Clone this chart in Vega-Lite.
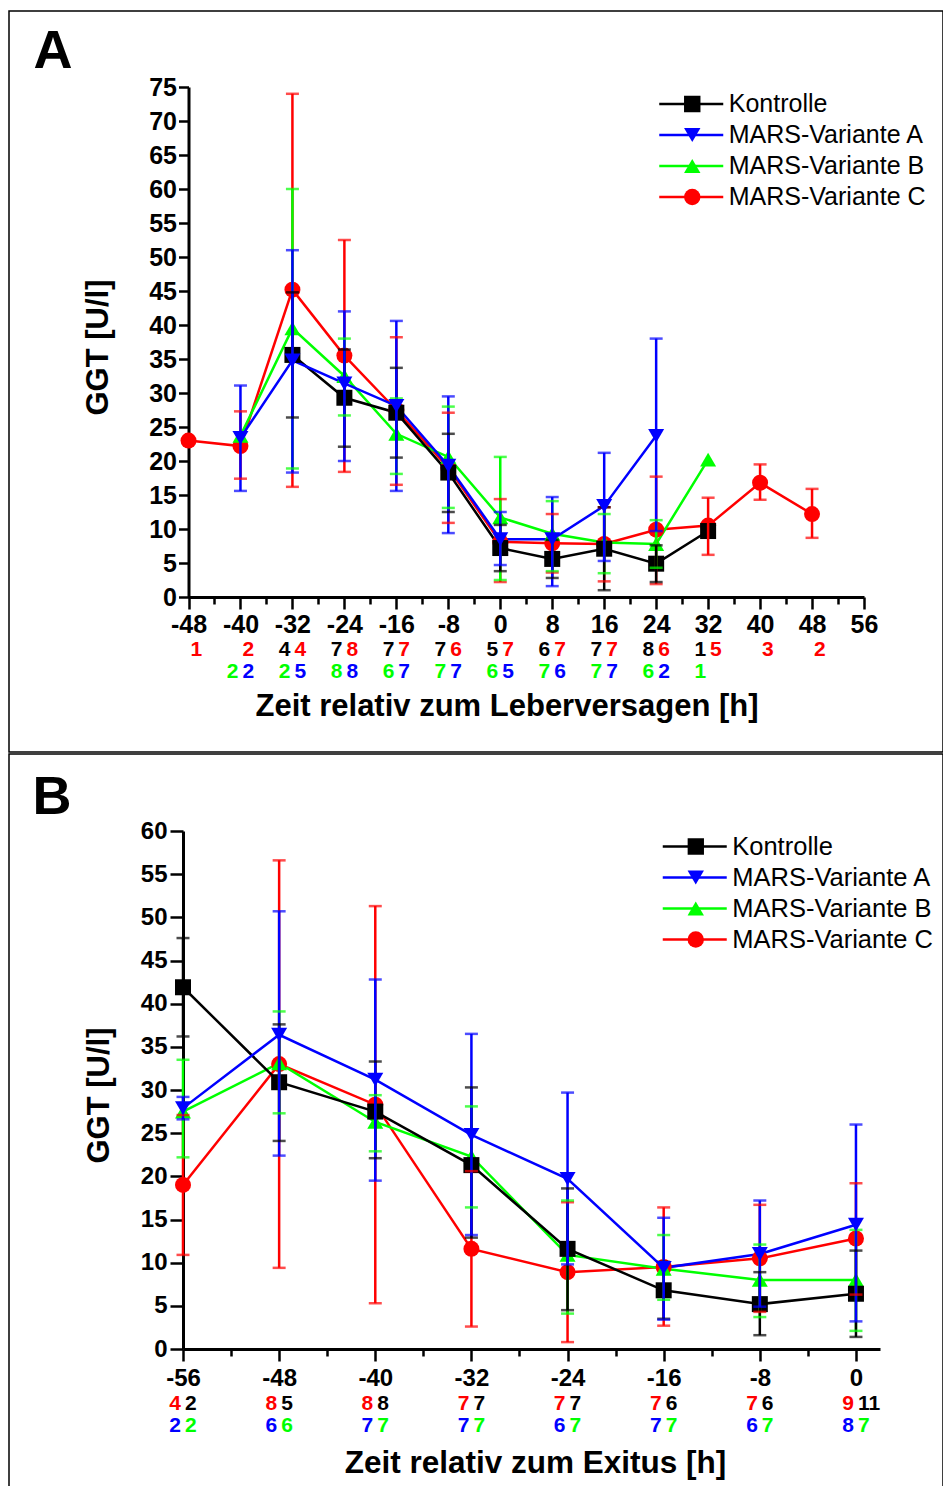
{
  "$schema": "https://vega.github.io/schema/vega-lite/v6.json",
  "padding": {"left": 8, "top": 10, "right": 0, "bottom": 0},
  "spacing": 0,
  "background": "#ffffff",
  "config": {
    "font": "Liberation Sans",
    "view": {"stroke": "#000000", "strokeWidth": 1.5},
    "axis": {"domainColor": "#000000", "domainWidth": 3, "tickColor": "#000000", "tickWidth": 2.5, "labelColor": "#000000", "labelFontSize": 25, "labelFontWeight": "bold", "titleColor": "#000000", "titleFontSize": 31, "titleFontWeight": "bold", "grid": false, "labelOverlap": false, "labelFlush": false, "labelBound": false}
  },
  "resolve": {"scale": {"color": "independent", "fill": "independent", "shape": "independent", "stroke": "independent"}},
  "datasets": {
    "ptsA": [
      {"t": -48, "series": "MARS-Variante C", "code": "C", "v": 23.0},
      {"t": -40, "series": "MARS-Variante C", "code": "C", "v": 22.2, "lo": 17.4, "hi": 27.3},
      {"t": -32, "series": "MARS-Variante C", "code": "C", "v": 45.2, "lo": 16.2, "hi": 74.0},
      {"t": -24, "series": "MARS-Variante C", "code": "C", "v": 35.5, "lo": 18.4, "hi": 52.5},
      {"t": -16, "series": "MARS-Variante C", "code": "C", "v": 27.5, "lo": 16.5, "hi": 38.2},
      {"t": -8, "series": "MARS-Variante C", "code": "C", "v": 19.0, "lo": 10.9, "hi": 27.1},
      {"t": 0, "series": "MARS-Variante C", "code": "C", "v": 8.1, "lo": 2.2, "hi": 14.4},
      {"t": 8, "series": "MARS-Variante C", "code": "C", "v": 7.9, "lo": 3.6, "hi": 12.2},
      {"t": 16, "series": "MARS-Variante C", "code": "C", "v": 7.8, "lo": 2.3, "hi": 13.2},
      {"t": 24, "series": "MARS-Variante C", "code": "C", "v": 9.9, "lo": 1.9, "hi": 17.7},
      {"t": 32, "series": "MARS-Variante C", "code": "C", "v": 10.5, "lo": 6.2, "hi": 14.6},
      {"t": 40, "series": "MARS-Variante C", "code": "C", "v": 16.8, "lo": 14.3, "hi": 19.5},
      {"t": 48, "series": "MARS-Variante C", "code": "C", "v": 12.2, "lo": 8.7, "hi": 15.9},
      {"t": -40, "series": "MARS-Variante B", "code": "B", "v": 23.7},
      {"t": -32, "series": "MARS-Variante B", "code": "B", "v": 39.5, "lo": 18.9, "hi": 60.0},
      {"t": -24, "series": "MARS-Variante B", "code": "B", "v": 32.5, "lo": 26.7, "hi": 38.0},
      {"t": -16, "series": "MARS-Variante B", "code": "B", "v": 24.0, "lo": 18.1, "hi": 29.2},
      {"t": -8, "series": "MARS-Variante B", "code": "B", "v": 20.6, "lo": 13.1, "hi": 28.0},
      {"t": 0, "series": "MARS-Variante B", "code": "B", "v": 11.7, "lo": 2.5, "hi": 20.6},
      {"t": 8, "series": "MARS-Variante B", "code": "B", "v": 9.3, "lo": 3.8, "hi": 14.1},
      {"t": 16, "series": "MARS-Variante B", "code": "B", "v": 8.0, "lo": 3.5, "hi": 12.2},
      {"t": 24, "series": "MARS-Variante B", "code": "B", "v": 7.8, "lo": 4.3, "hi": 11.3},
      {"t": 32, "series": "MARS-Variante B", "code": "B", "v": 20.2},
      {"t": -32, "series": "Kontrolle", "code": "K", "v": 35.6, "lo": 26.4, "hi": 44.8},
      {"t": -24, "series": "Kontrolle", "code": "K", "v": 29.3, "lo": 22.1, "hi": 36.4},
      {"t": -16, "series": "Kontrolle", "code": "K", "v": 27.1, "lo": 20.5, "hi": 33.7},
      {"t": -8, "series": "Kontrolle", "code": "K", "v": 18.3, "lo": 12.5, "hi": 24.0},
      {"t": 0, "series": "Kontrolle", "code": "K", "v": 7.2, "lo": 3.8, "hi": 10.6},
      {"t": 8, "series": "Kontrolle", "code": "K", "v": 5.6, "lo": 2.8, "hi": 8.4},
      {"t": 16, "series": "Kontrolle", "code": "K", "v": 7.1, "lo": 1.0, "hi": 13.2},
      {"t": 24, "series": "Kontrolle", "code": "K", "v": 4.9, "lo": 2.2, "hi": 7.6},
      {"t": 32, "series": "Kontrolle", "code": "K", "v": 9.7},
      {"t": -40, "series": "MARS-Variante A", "code": "A", "v": 23.4, "lo": 15.6, "hi": 31.1},
      {"t": -32, "series": "MARS-Variante A", "code": "A", "v": 34.8, "lo": 18.3, "hi": 51.0},
      {"t": -24, "series": "MARS-Variante A", "code": "A", "v": 31.4, "lo": 20.0, "hi": 42.0},
      {"t": -16, "series": "MARS-Variante A", "code": "A", "v": 28.1, "lo": 15.6, "hi": 40.6},
      {"t": -8, "series": "MARS-Variante A", "code": "A", "v": 19.3, "lo": 9.4, "hi": 29.5},
      {"t": 0, "series": "MARS-Variante A", "code": "A", "v": 8.5, "lo": 4.7, "hi": 12.5},
      {"t": 8, "series": "MARS-Variante A", "code": "A", "v": 8.5, "lo": 1.6, "hi": 14.7},
      {"t": 16, "series": "MARS-Variante A", "code": "A", "v": 13.4, "lo": 5.3, "hi": 21.2},
      {"t": 24, "series": "MARS-Variante A", "code": "A", "v": 23.7, "lo": 9.7, "hi": 38.0}
    ],
    "cntA": [
      {"t": -48, "row": 1, "pos": "R", "code": "C", "n": 1},
      {"t": -40, "row": 1, "pos": "R", "code": "C", "n": 2},
      {"t": -40, "row": 2, "pos": "L", "code": "B", "n": 2},
      {"t": -40, "row": 2, "pos": "R", "code": "A", "n": 2},
      {"t": -32, "row": 1, "pos": "L", "code": "K", "n": 4},
      {"t": -32, "row": 1, "pos": "R", "code": "C", "n": 4},
      {"t": -32, "row": 2, "pos": "L", "code": "B", "n": 2},
      {"t": -32, "row": 2, "pos": "R", "code": "A", "n": 5},
      {"t": -24, "row": 1, "pos": "L", "code": "K", "n": 7},
      {"t": -24, "row": 1, "pos": "R", "code": "C", "n": 8},
      {"t": -24, "row": 2, "pos": "L", "code": "B", "n": 8},
      {"t": -24, "row": 2, "pos": "R", "code": "A", "n": 8},
      {"t": -16, "row": 1, "pos": "L", "code": "K", "n": 7},
      {"t": -16, "row": 1, "pos": "R", "code": "C", "n": 7},
      {"t": -16, "row": 2, "pos": "L", "code": "B", "n": 6},
      {"t": -16, "row": 2, "pos": "R", "code": "A", "n": 7},
      {"t": -8, "row": 1, "pos": "L", "code": "K", "n": 7},
      {"t": -8, "row": 1, "pos": "R", "code": "C", "n": 6},
      {"t": -8, "row": 2, "pos": "L", "code": "B", "n": 7},
      {"t": -8, "row": 2, "pos": "R", "code": "A", "n": 7},
      {"t": 0, "row": 1, "pos": "L", "code": "K", "n": 5},
      {"t": 0, "row": 1, "pos": "R", "code": "C", "n": 7},
      {"t": 0, "row": 2, "pos": "L", "code": "B", "n": 6},
      {"t": 0, "row": 2, "pos": "R", "code": "A", "n": 5},
      {"t": 8, "row": 1, "pos": "L", "code": "K", "n": 6},
      {"t": 8, "row": 1, "pos": "R", "code": "C", "n": 7},
      {"t": 8, "row": 2, "pos": "L", "code": "B", "n": 7},
      {"t": 8, "row": 2, "pos": "R", "code": "A", "n": 6},
      {"t": 16, "row": 1, "pos": "L", "code": "K", "n": 7},
      {"t": 16, "row": 1, "pos": "R", "code": "C", "n": 7},
      {"t": 16, "row": 2, "pos": "L", "code": "B", "n": 7},
      {"t": 16, "row": 2, "pos": "R", "code": "A", "n": 7},
      {"t": 24, "row": 1, "pos": "L", "code": "K", "n": 8},
      {"t": 24, "row": 1, "pos": "R", "code": "C", "n": 6},
      {"t": 24, "row": 2, "pos": "L", "code": "B", "n": 6},
      {"t": 24, "row": 2, "pos": "R", "code": "A", "n": 2},
      {"t": 32, "row": 1, "pos": "L", "code": "K", "n": 1},
      {"t": 32, "row": 1, "pos": "R", "code": "C", "n": 5},
      {"t": 32, "row": 2, "pos": "L", "code": "B", "n": 1},
      {"t": 40, "row": 1, "pos": "R", "code": "C", "n": 3},
      {"t": 48, "row": 1, "pos": "R", "code": "C", "n": 2}
    ],
    "ptsB": [
      {"t": -56, "series": "MARS-Variante C", "code": "C", "v": 19.0, "lo": 10.9, "hi": 27.1},
      {"t": -48, "series": "MARS-Variante C", "code": "C", "v": 33.0, "lo": 9.4, "hi": 56.6},
      {"t": -40, "series": "MARS-Variante C", "code": "C", "v": 28.3, "lo": 5.3, "hi": 51.3},
      {"t": -32, "series": "MARS-Variante C", "code": "C", "v": 11.6, "lo": 2.6, "hi": 20.6},
      {"t": -24, "series": "MARS-Variante C", "code": "C", "v": 8.9, "lo": 0.8, "hi": 17.0},
      {"t": -16, "series": "MARS-Variante C", "code": "C", "v": 9.5, "lo": 2.7, "hi": 16.4},
      {"t": -8, "series": "MARS-Variante C", "code": "C", "v": 10.5, "lo": 4.3, "hi": 16.7},
      {"t": 0, "series": "MARS-Variante C", "code": "C", "v": 12.8, "lo": 6.3, "hi": 19.2},
      {"t": -56, "series": "MARS-Variante B", "code": "B", "v": 27.5, "lo": 22.2, "hi": 33.5},
      {"t": -48, "series": "MARS-Variante B", "code": "B", "v": 33.1, "lo": 27.3, "hi": 39.1},
      {"t": -40, "series": "MARS-Variante B", "code": "B", "v": 26.3, "lo": 22.9, "hi": 29.4},
      {"t": -32, "series": "MARS-Variante B", "code": "B", "v": 22.3, "lo": 16.4, "hi": 28.1},
      {"t": -24, "series": "MARS-Variante B", "code": "B", "v": 10.9, "lo": 4.1, "hi": 17.2},
      {"t": -16, "series": "MARS-Variante B", "code": "B", "v": 9.3, "lo": 5.7, "hi": 13.2},
      {"t": -8, "series": "MARS-Variante B", "code": "B", "v": 8.0, "lo": 3.7, "hi": 12.1},
      {"t": 0, "series": "MARS-Variante B", "code": "B", "v": 8.0, "lo": 2.1, "hi": 13.8},
      {"t": -56, "series": "Kontrolle", "code": "K", "v": 41.9, "lo": 36.2, "hi": 47.6},
      {"t": -48, "series": "Kontrolle", "code": "K", "v": 30.9, "lo": 24.1, "hi": 37.6},
      {"t": -40, "series": "Kontrolle", "code": "K", "v": 27.5, "lo": 22.1, "hi": 33.3},
      {"t": -32, "series": "Kontrolle", "code": "K", "v": 21.3, "lo": 12.9, "hi": 30.3},
      {"t": -24, "series": "Kontrolle", "code": "K", "v": 11.6, "lo": 4.5, "hi": 18.6},
      {"t": -16, "series": "Kontrolle", "code": "K", "v": 6.8, "lo": 3.5, "hi": 10.1},
      {"t": -8, "series": "Kontrolle", "code": "K", "v": 5.2, "lo": 1.6, "hi": 8.9},
      {"t": 0, "series": "Kontrolle", "code": "K", "v": 6.4, "lo": 1.4, "hi": 11.4},
      {"t": -56, "series": "MARS-Variante A", "code": "A", "v": 27.9, "lo": 26.6, "hi": 29.2},
      {"t": -48, "series": "MARS-Variante A", "code": "A", "v": 36.4, "lo": 22.4, "hi": 50.7},
      {"t": -40, "series": "MARS-Variante A", "code": "A", "v": 31.2, "lo": 19.5, "hi": 42.8},
      {"t": -32, "series": "MARS-Variante A", "code": "A", "v": 24.8, "lo": 13.2, "hi": 36.5},
      {"t": -24, "series": "MARS-Variante A", "code": "A", "v": 19.7, "lo": 9.8, "hi": 29.7},
      {"t": -16, "series": "MARS-Variante A", "code": "A", "v": 9.4, "lo": 3.4, "hi": 15.2},
      {"t": -8, "series": "MARS-Variante A", "code": "A", "v": 11.0, "lo": 4.9, "hi": 17.2},
      {"t": 0, "series": "MARS-Variante A", "code": "A", "v": 14.4, "lo": 3.2, "hi": 26.0}
    ],
    "cntB": [
      {"t": -56, "row": 1, "pos": "L", "code": "C", "n": 4},
      {"t": -56, "row": 1, "pos": "R", "code": "K", "n": 2},
      {"t": -56, "row": 2, "pos": "L", "code": "A", "n": 2},
      {"t": -56, "row": 2, "pos": "R", "code": "B", "n": 2},
      {"t": -48, "row": 1, "pos": "L", "code": "C", "n": 8},
      {"t": -48, "row": 1, "pos": "R", "code": "K", "n": 5},
      {"t": -48, "row": 2, "pos": "L", "code": "A", "n": 6},
      {"t": -48, "row": 2, "pos": "R", "code": "B", "n": 6},
      {"t": -40, "row": 1, "pos": "L", "code": "C", "n": 8},
      {"t": -40, "row": 1, "pos": "R", "code": "K", "n": 8},
      {"t": -40, "row": 2, "pos": "L", "code": "A", "n": 7},
      {"t": -40, "row": 2, "pos": "R", "code": "B", "n": 7},
      {"t": -32, "row": 1, "pos": "L", "code": "C", "n": 7},
      {"t": -32, "row": 1, "pos": "R", "code": "K", "n": 7},
      {"t": -32, "row": 2, "pos": "L", "code": "A", "n": 7},
      {"t": -32, "row": 2, "pos": "R", "code": "B", "n": 7},
      {"t": -24, "row": 1, "pos": "L", "code": "C", "n": 7},
      {"t": -24, "row": 1, "pos": "R", "code": "K", "n": 7},
      {"t": -24, "row": 2, "pos": "L", "code": "A", "n": 6},
      {"t": -24, "row": 2, "pos": "R", "code": "B", "n": 7},
      {"t": -16, "row": 1, "pos": "L", "code": "C", "n": 7},
      {"t": -16, "row": 1, "pos": "R", "code": "K", "n": 6},
      {"t": -16, "row": 2, "pos": "L", "code": "A", "n": 7},
      {"t": -16, "row": 2, "pos": "R", "code": "B", "n": 7},
      {"t": -8, "row": 1, "pos": "L", "code": "C", "n": 7},
      {"t": -8, "row": 1, "pos": "R", "code": "K", "n": 6},
      {"t": -8, "row": 2, "pos": "L", "code": "A", "n": 6},
      {"t": -8, "row": 2, "pos": "R", "code": "B", "n": 7},
      {"t": 0, "row": 1, "pos": "L", "code": "C", "n": 9},
      {"t": 0, "row": 1, "pos": "R", "code": "K", "n": 11},
      {"t": 0, "row": 2, "pos": "L", "code": "A", "n": 8},
      {"t": 0, "row": 2, "pos": "R", "code": "B", "n": 7}
    ]
  },
  "vconcat": [
    {
      "width": 934,
      "height": 741,
      "resolve": {"scale": {"y": "independent"}},
      "encoding": {
        "x": {"field": "t", "type": "quantitative",
          "scale": {"domain": [-48, 56], "range": [179.5, 855], "nice": false, "zero": false},
          "axis": {"orient": "bottom", "offset": -155,
            "values": [-48, -44, -40, -36, -32, -28, -24, -20, -16, -12, -8, -4, 0, 4, 8, 12, 16, 20, 24, 28, 32, 36, 40, 44, 48, 52, 56],
            "labelExpr": "datum.value % 8 === 0 ? '' + datum.value : ''",
            "tickSize": {"condition": {"test": "datum.value % 8 !== 0", "value": 7}, "value": 12},
            "labelPadding": 3.5,
            "title": "Zeit relativ zum Leberversagen [h]", "titleX": 497.5, "titleY": 94}}
      },
      "layer": [
        {
          "data": {"name": "ptsA"},
          "layer": [
            {"mark": {"type": "line", "strokeWidth": 2.5},
             "encoding": {
               "y": {"field": "v", "type": "quantitative",
                 "scale": {"domain": [0, 75], "range": [586, 76], "nice": false, "zero": false},
                 "axis": {"orient": "left", "offset": -179.5,
                   "values": [0, 2.5, 5, 7.5, 10, 12.5, 15, 17.5, 20, 22.5, 25, 27.5, 30, 32.5, 35, 37.5, 40, 42.5, 45, 47.5, 50, 52.5, 55, 57.5, 60, 62.5, 65, 67.5, 70, 72.5, 75],
                   "labelExpr": "datum.value % 5 === 0 ? '' + datum.value : ''",
                   "tickSize": {"condition": {"test": "datum.value % 5 !== 0", "value": 6}, "value": 10},
                   "labelPadding": 2,
                   "title": "GGT [U/l]", "titleX": -74.5, "titleY": 336}},
               "color": {"field": "series", "type": "nominal",
                 "scale": {"domain": ["Kontrolle", "MARS-Variante A", "MARS-Variante B", "MARS-Variante C"], "range": ["#000000", "#0000ff", "#00ff00", "#ff0000"]},
                 "legend": {"orient": "none", "legendX": 648.75, "legendY": 78.5, "title": null, "symbolType": "stroke", "symbolSize": 4096, "symbolStrokeWidth": 2.5, "labelFontSize": 25, "labelFontWeight": "normal", "labelColor": "#000000", "labelOffset": 4, "clipHeight": 29, "rowPadding": 2, "padding": 0, "labelLimit": 400}}
             }},
            {"transform": [{"filter": "datum.code !== 'A'"}],
             "mark": {"type": "point", "filled": true, "opacity": 1, "strokeWidth": 0, "size": 256},
             "encoding": {
               "y": {"field": "v", "type": "quantitative", "scale": {"domain": [0, 75], "range": [586, 76], "nice": false, "zero": false}},
               "fill": {"field": "code", "type": "nominal", "scale": {"domain": ["K", "A", "B", "C"], "range": ["#000000", "#0000ff", "#00ff00", "#ff0000"]},
                 "legend": {"orient": "none", "legendX": 674.75, "legendY": 78.5, "title": null, "symbolSize": 270, "symbolStrokeWidth": 0, "labelOpacity": 0, "clipHeight": 29, "rowPadding": 2, "padding": 0}},
               "shape": {"field": "code", "type": "nominal", "scale": {"domain": ["K", "A", "B", "C"], "range": ["square", "triangle-down", "triangle-up", "circle"]},
                 "legend": {"orient": "none", "legendX": 674.75, "legendY": 78.5, "title": null, "symbolSize": 270, "symbolStrokeWidth": 0, "labelOpacity": 0, "clipHeight": 29, "rowPadding": 2, "padding": 0}}
             }},
            {"transform": [{"filter": "isValid(datum.lo)"}],
             "mark": {"type": "rule", "strokeWidth": 2.5},
             "encoding": {
               "y": {"field": "lo", "type": "quantitative", "scale": {"domain": [0, 75], "range": [586, 76], "nice": false, "zero": false}},
               "y2": {"field": "hi"},
               "stroke": {"field": "code", "type": "nominal", "scale": {"domain": ["K", "A", "B", "C"], "range": ["#000000", "#0000ff", "#00ff00", "#ff0000"]}, "legend": null}
             }},
            {"transform": [{"filter": "isValid(datum.lo)"}],
             "mark": {"type": "tick", "orient": "horizontal", "size": 13, "thickness": 2.5},
             "encoding": {
               "y": {"field": "lo", "type": "quantitative", "scale": {"domain": [0, 75], "range": [586, 76], "nice": false, "zero": false}},
               "fill": {"field": "code", "type": "nominal", "scale": {"domain": ["K", "A", "B", "C"], "range": ["#000000", "#0000ff", "#00ff00", "#ff0000"]}, "legend": null}
             }},
            {"transform": [{"filter": "isValid(datum.hi)"}],
             "mark": {"type": "tick", "orient": "horizontal", "size": 13, "thickness": 2.5},
             "encoding": {
               "y": {"field": "hi", "type": "quantitative", "scale": {"domain": [0, 75], "range": [586, 76], "nice": false, "zero": false}},
               "fill": {"field": "code", "type": "nominal", "scale": {"domain": ["K", "A", "B", "C"], "range": ["#000000", "#0000ff", "#00ff00", "#ff0000"]}, "legend": null}
             }},
            {"transform": [{"filter": "datum.code === 'A'"}],
             "mark": {"type": "point", "filled": true, "opacity": 1, "strokeWidth": 0, "size": 256},
             "encoding": {
               "y": {"field": "v", "type": "quantitative", "scale": {"domain": [0, 75], "range": [586, 76], "nice": false, "zero": false}},
               "fill": {"field": "code", "type": "nominal", "scale": {"domain": ["K", "A", "B", "C"], "range": ["#000000", "#0000ff", "#00ff00", "#ff0000"]},
                 "legend": {"orient": "none", "legendX": 674.75, "legendY": 78.5, "title": null, "symbolSize": 270, "symbolStrokeWidth": 0, "labelOpacity": 0, "clipHeight": 29, "rowPadding": 2, "padding": 0}},
               "shape": {"field": "code", "type": "nominal", "scale": {"domain": ["K", "A", "B", "C"], "range": ["square", "triangle-down", "triangle-up", "circle"]},
                 "legend": {"orient": "none", "legendX": 674.75, "legendY": 78.5, "title": null, "symbolSize": 270, "symbolStrokeWidth": 0, "labelOpacity": 0, "clipHeight": 29, "rowPadding": 2, "padding": 0}}
             }}
          ]
        },
        {
          "data": {"name": "cntA"},
          "transform": [{"filter": "datum.pos === 'L'"}],
          "mark": {"type": "text", "align": "right", "baseline": "middle", "dx": -2, "fontSize": 21, "fontWeight": "bold"},
          "encoding": {
            "y": {"field": "row", "type": "quantitative", "scale": {"domain": [1, 2], "range": [639, 661], "nice": false, "zero": false},
              "axis": {"orient": "right", "offset": 0, "domain": false, "ticks": false, "labels": false, "grid": false, "minExtent": 0, "maxExtent": 0,
                "title": "A", "titleAngle": 0, "titleX": -910, "titleY": 56, "titleAlign": "left", "titleBaseline": "alphabetic", "titleFontSize": 54, "titleFontWeight": "bold", "titleColor": "#000000"}},
            "text": {"field": "n", "type": "nominal"},
            "fill": {"field": "code", "type": "nominal", "scale": {"domain": ["K", "A", "B", "C"], "range": ["#000000", "#0000ff", "#00ff00", "#ff0000"]}, "legend": null}
          }
        },
        {
          "data": {"name": "cntA"},
          "transform": [{"filter": "datum.pos === 'R'"}],
          "mark": {"type": "text", "align": "left", "baseline": "middle", "dx": 2, "fontSize": 21, "fontWeight": "bold"},
          "encoding": {
            "y": {"field": "row", "type": "quantitative", "scale": {"domain": [1, 2], "range": [639, 661], "nice": false, "zero": false}, "axis": null},
            "text": {"field": "n", "type": "nominal"},
            "fill": {"field": "code", "type": "nominal", "scale": {"domain": ["K", "A", "B", "C"], "range": ["#000000", "#0000ff", "#00ff00", "#ff0000"]}, "legend": null}
          }
        }
      ]
    },
    {
      "width": 934,
      "height": 733,
      "resolve": {"scale": {"y": "independent"}},
      "encoding": {
        "x": {"field": "t", "type": "quantitative",
          "scale": {"domain": [-56, 2], "range": [174, 871], "nice": false, "zero": false},
          "axis": {"orient": "bottom", "offset": -138,
            "values": [-56, -52, -48, -44, -40, -36, -32, -28, -24, -20, -16, -12, -8, -4, 0],
            "labelExpr": "datum.value % 8 === 0 ? '' + datum.value : ''",
            "tickSize": {"condition": {"test": "datum.value % 8 !== 0", "value": 7}, "value": 12},
            "labelPadding": 5, "labelFontSize": 24,
            "title": "Zeit relativ zum Exitus [h]", "titleX": 526, "titleY": 98.5, "titleFontSize": 31.5}}
      },
      "layer": [
        {
          "data": {"name": "ptsB"},
          "layer": [
            {"mark": {"type": "line", "strokeWidth": 2.5},
             "encoding": {
               "y": {"field": "v", "type": "quantitative",
                 "scale": {"domain": [0, 60], "range": [595, 77], "nice": false, "zero": false},
                 "axis": {"orient": "left", "offset": -174,
                   "values": [0, 2.5, 5, 7.5, 10, 12.5, 15, 17.5, 20, 22.5, 25, 27.5, 30, 32.5, 35, 37.5, 40, 42.5, 45, 47.5, 50, 52.5, 55, 57.5, 60],
                   "labelExpr": "datum.value % 5 === 0 ? '' + datum.value : ''",
                   "tickSize": {"condition": {"test": "datum.value % 5 !== 0", "value": 5}, "value": 13},
                   "labelPadding": 3, "labelFontSize": 24,
                   "title": "GGT [U/l]", "titleX": -68, "titleY": 341}},
               "color": {"field": "series", "type": "nominal",
                 "scale": {"domain": ["Kontrolle", "MARS-Variante A", "MARS-Variante B", "MARS-Variante C"], "range": ["#000000", "#0000ff", "#00ff00", "#ff0000"]},
                 "legend": {"orient": "none", "legendX": 652.25, "legendY": 78, "title": null, "symbolType": "stroke", "symbolSize": 4096, "symbolStrokeWidth": 2.5, "labelFontSize": 25.5, "labelFontWeight": "normal", "labelColor": "#000000", "labelOffset": 4, "clipHeight": 29, "rowPadding": 2, "padding": 0, "labelLimit": 400}}
             }},
            {"transform": [{"filter": "datum.code !== 'A'"}],
             "mark": {"type": "point", "filled": true, "opacity": 1, "strokeWidth": 0, "size": 256},
             "encoding": {
               "y": {"field": "v", "type": "quantitative", "scale": {"domain": [0, 60], "range": [595, 77], "nice": false, "zero": false}},
               "fill": {"field": "code", "type": "nominal", "scale": {"domain": ["K", "A", "B", "C"], "range": ["#000000", "#0000ff", "#00ff00", "#ff0000"]},
                 "legend": {"orient": "none", "legendX": 678.25, "legendY": 78, "title": null, "symbolSize": 270, "symbolStrokeWidth": 0, "labelOpacity": 0, "clipHeight": 29, "rowPadding": 2, "padding": 0}},
               "shape": {"field": "code", "type": "nominal", "scale": {"domain": ["K", "A", "B", "C"], "range": ["square", "triangle-down", "triangle-up", "circle"]},
                 "legend": {"orient": "none", "legendX": 678.25, "legendY": 78, "title": null, "symbolSize": 270, "symbolStrokeWidth": 0, "labelOpacity": 0, "clipHeight": 29, "rowPadding": 2, "padding": 0}}
             }},
            {"transform": [{"filter": "isValid(datum.lo)"}],
             "mark": {"type": "rule", "strokeWidth": 2.5},
             "encoding": {
               "y": {"field": "lo", "type": "quantitative", "scale": {"domain": [0, 60], "range": [595, 77], "nice": false, "zero": false}},
               "y2": {"field": "hi"},
               "stroke": {"field": "code", "type": "nominal", "scale": {"domain": ["K", "A", "B", "C"], "range": ["#000000", "#0000ff", "#00ff00", "#ff0000"]}, "legend": null}
             }},
            {"transform": [{"filter": "isValid(datum.lo)"}],
             "mark": {"type": "tick", "orient": "horizontal", "size": 13, "thickness": 2.5},
             "encoding": {
               "y": {"field": "lo", "type": "quantitative", "scale": {"domain": [0, 60], "range": [595, 77], "nice": false, "zero": false}},
               "fill": {"field": "code", "type": "nominal", "scale": {"domain": ["K", "A", "B", "C"], "range": ["#000000", "#0000ff", "#00ff00", "#ff0000"]}, "legend": null}
             }},
            {"transform": [{"filter": "isValid(datum.hi)"}],
             "mark": {"type": "tick", "orient": "horizontal", "size": 13, "thickness": 2.5},
             "encoding": {
               "y": {"field": "hi", "type": "quantitative", "scale": {"domain": [0, 60], "range": [595, 77], "nice": false, "zero": false}},
               "fill": {"field": "code", "type": "nominal", "scale": {"domain": ["K", "A", "B", "C"], "range": ["#000000", "#0000ff", "#00ff00", "#ff0000"]}, "legend": null}
             }},
            {"transform": [{"filter": "datum.code === 'A'"}],
             "mark": {"type": "point", "filled": true, "opacity": 1, "strokeWidth": 0, "size": 256},
             "encoding": {
               "y": {"field": "v", "type": "quantitative", "scale": {"domain": [0, 60], "range": [595, 77], "nice": false, "zero": false}},
               "fill": {"field": "code", "type": "nominal", "scale": {"domain": ["K", "A", "B", "C"], "range": ["#000000", "#0000ff", "#00ff00", "#ff0000"]},
                 "legend": {"orient": "none", "legendX": 678.25, "legendY": 78, "title": null, "symbolSize": 270, "symbolStrokeWidth": 0, "labelOpacity": 0, "clipHeight": 29, "rowPadding": 2, "padding": 0}},
               "shape": {"field": "code", "type": "nominal", "scale": {"domain": ["K", "A", "B", "C"], "range": ["square", "triangle-down", "triangle-up", "circle"]},
                 "legend": {"orient": "none", "legendX": 678.25, "legendY": 78, "title": null, "symbolSize": 270, "symbolStrokeWidth": 0, "labelOpacity": 0, "clipHeight": 29, "rowPadding": 2, "padding": 0}}
             }}
          ]
        },
        {
          "data": {"name": "cntB"},
          "transform": [{"filter": "datum.pos === 'L'"}],
          "mark": {"type": "text", "align": "right", "baseline": "middle", "dx": -2, "fontSize": 21, "fontWeight": "bold"},
          "encoding": {
            "y": {"field": "row", "type": "quantitative", "scale": {"domain": [1, 2], "range": [649.5, 671.5], "nice": false, "zero": false},
              "axis": {"orient": "right", "offset": 0, "domain": false, "ticks": false, "labels": false, "grid": false, "minExtent": 0, "maxExtent": 0,
                "title": "B", "titleAngle": 0, "titleX": -911, "titleY": 59, "titleAlign": "left", "titleBaseline": "alphabetic", "titleFontSize": 54, "titleFontWeight": "bold", "titleColor": "#000000"}},
            "text": {"field": "n", "type": "nominal"},
            "fill": {"field": "code", "type": "nominal", "scale": {"domain": ["K", "A", "B", "C"], "range": ["#000000", "#0000ff", "#00ff00", "#ff0000"]}, "legend": null}
          }
        },
        {
          "data": {"name": "cntB"},
          "transform": [{"filter": "datum.pos === 'R'"}],
          "mark": {"type": "text", "align": "left", "baseline": "middle", "dx": 2, "fontSize": 21, "fontWeight": "bold"},
          "encoding": {
            "y": {"field": "row", "type": "quantitative", "scale": {"domain": [1, 2], "range": [649.5, 671.5], "nice": false, "zero": false}, "axis": null},
            "text": {"field": "n", "type": "nominal"},
            "fill": {"field": "code", "type": "nominal", "scale": {"domain": ["K", "A", "B", "C"], "range": ["#000000", "#0000ff", "#00ff00", "#ff0000"]}, "legend": null}
          }
        }
      ]
    }
  ]
}
